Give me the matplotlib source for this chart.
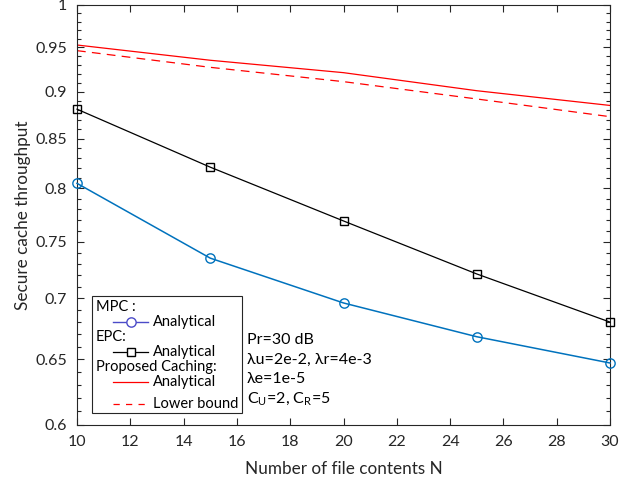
import numpy as np
import matplotlib
matplotlib.use('Agg')
import matplotlib.pyplot as plt
from matplotlib.ticker import FixedLocator, FormatStrFormatter, NullFormatter
from matplotlib.lines import Line2D
from matplotlib.patches import Rectangle

plt.rcParams['font.family'] = ['Lato', 'DejaVu Sans']
plt.rcParams['mathtext.fontset'] = 'custom'
plt.rcParams['mathtext.rm'] = 'Lato'

# data
N = [10, 15, 20, 25, 30]
mpc = [0.805, 0.735, 0.696, 0.668, 0.647]
epc = [0.881, 0.821, 0.769, 0.721, 0.680]
prop_analytical = [0.9525, 0.935, 0.921, 0.901, 0.885]
prop_lower = [0.946, 0.927, 0.911, 0.892, 0.873]

blue = (0, 0.447, 0.741)
legend_blue = '#4b4bc8'
axcol = (0.15, 0.15, 0.15)

L, R, T, B = 77.0, 610.0, 5.0, 425.0
fig = plt.figure(figsize=(6.38, 4.87), dpi=100)
ax = fig.add_axes([L / 638, (487 - B) / 487, (R - L) / 638, (B - T) / 487])

ax.plot(N, mpc, color=blue, lw=1.1, marker='o', ms=6.7, mfc='none', mew=1.0,
        clip_on=False, zorder=3)
ax.plot(N, epc, color='black', lw=0.9, marker='s', ms=5.8, mfc='none', mew=1.0,
        clip_on=False, zorder=3)
ax.plot(N, prop_analytical, color='red', lw=0.9)
ax.plot(N, prop_lower, color='red', lw=0.9, ls=(0, (7, 5)))

ax.set_yscale('log')
ax.set_xlim(10, 30)
ax.set_ylim(0.6, 1)
ax.xaxis.set_major_locator(FixedLocator(np.arange(10, 31, 2)))
ax.yaxis.set_major_locator(FixedLocator(np.arange(0.6, 1.001, 0.05)))
ax.yaxis.set_major_formatter(FormatStrFormatter('%g'))
ax.yaxis.set_minor_locator(FixedLocator(np.arange(0.6, 1.001, 0.01)))
ax.yaxis.set_minor_formatter(NullFormatter())
ax.tick_params(which='both', direction='in', top=True, right=True, colors=axcol,
               labelcolor=axcol, labelsize=11.5)
ax.tick_params(which='major', length=5, width=0.8, pad=7)
ax.tick_params(which='minor', length=3, width=0.8)
for s in ax.spines.values():
    s.set_color(axcol)
    s.set_linewidth(0.8)

ax.set_xlabel('Number of file contents N', fontsize=12.3, color=axcol, labelpad=9)
ax.set_ylabel('Secure cache throughput', fontsize=12.3, color=axcol, labelpad=3)


# MATLAB-style grouped legend, positioned in pixel units of the axes box
def fx(px):
    return (px - L) / (R - L)


def fy(py):
    return (B - py) / (B - T)


tr = ax.transAxes
ax.add_patch(Rectangle((fx(92), fy(413)), fx(242) - fx(92), fy(296) - fy(413),
                       transform=tr, fc='white', ec=axcol, lw=0.8, zorder=5))
fs = 10.5
entries = [
    ('MPC :', None, 307),
    ('Analytical', dict(color=legend_blue, lw=1.0, marker='o', ms=6.7), 322),
    ('EPC:', None, 337),
    ('Analytical', dict(color='black', lw=0.9, marker='s', ms=5.8), 352),
    ('Proposed Caching:', None, 367),
    ('Analytical', dict(color='red', lw=0.9), 382),
    ('Lower bound', dict(color='red', lw=0.9, ls=(0, (5, 5))), 404),
]
for label, style, py in entries:
    if style is None:
        ax.text(fx(96), fy(py), label, transform=tr, fontsize=fs, va='center',
                ha='left', zorder=6)
        continue
    style = dict(style)
    mk = style.pop('marker', None)
    ms = style.pop('ms', None)
    ax.add_line(Line2D([fx(113), fx(148)], [fy(py), fy(py)], transform=tr,
                       zorder=6, **style))
    if mk:
        ax.add_line(Line2D([fx(130.5)], [fy(py)], transform=tr, zorder=7,
                           marker=mk, mfc='white', ms=ms, mew=1.0,
                           color=style['color'], ls='none'))
    ax.text(fx(153), fy(py), label, transform=tr, fontsize=fs, va='center',
            ha='left', zorder=6)

params = ['Pr=30 dB', 'λu=2e-2, λr=4e-3', 'λe=1e-5',
          r'C$_\mathrm{U}$=2, C$_\mathrm{R}$=5']
for i, t in enumerate(params):
    ax.text(fx(247), fy(340 + 19.7 * i), t, transform=tr, fontsize=11.5,
            va='center', ha='left')

fig.savefig('out.png', dpi=100)
